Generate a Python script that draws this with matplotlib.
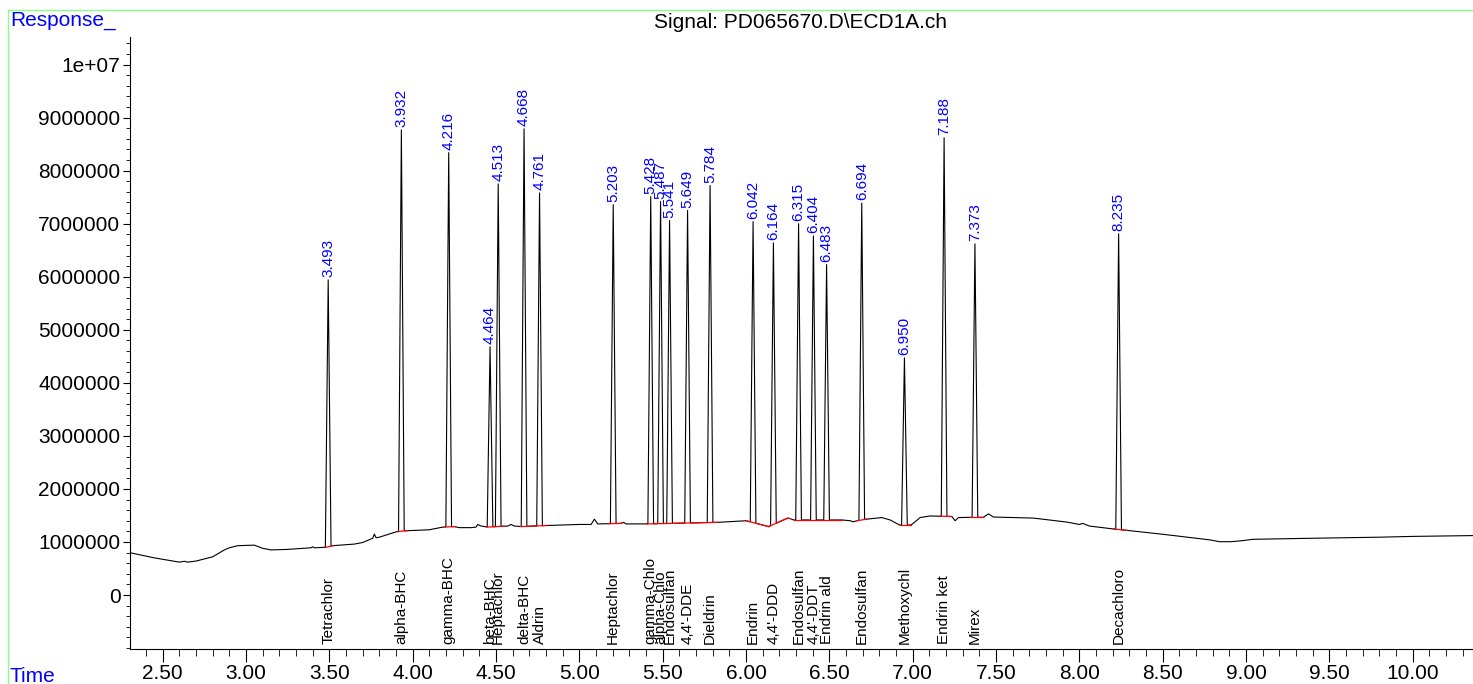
import matplotlib
matplotlib.use("Agg")
import matplotlib.pyplot as plt
from matplotlib.lines import Line2D
import numpy as np

plt.rcParams['font.family'] = ['Liberation Sans', 'DejaVu Sans']

# Peak table: retention time, apex response, compound name
peak_rt = [3.493, 3.932, 4.216, 4.464, 4.513, 4.668, 4.761, 5.203, 5.428, 5.487,
           5.541, 5.649, 5.784, 6.042, 6.164, 6.315, 6.404, 6.483, 6.694, 6.950,
           7.188, 7.373, 8.235]
peak_height = [5.94e6, 8.77e6, 8.34e6, 4.68e6, 7.75e6, 8.79e6, 7.58e6, 7.36e6, 7.51e6, 7.42e6,
               7.06e6, 7.25e6, 7.72e6, 7.04e6, 6.64e6, 7.00e6, 6.77e6, 6.23e6, 7.39e6, 4.47e6,
               8.62e6, 6.62e6, 6.81e6]
peak_name = ["Tetrachlor", "alpha-BHC", "gamma-BHC", "beta-BHC", "Heptachlor", "delta-BHC",
             "Aldrin", "Heptachlor", "gamma-Chlo", "alpha-Chlo", "Endosulfan", "4,4'-DDE",
             "Dieldrin", "Endrin", "4,4'-DDD", "Endosulfan", "4,4'-DDT", "Endrin ald",
             "Endosulfan", "Methoxychl", "Endrin ket", "Mirex", "Decachloro"]

# Baseline of the signal (time, response)
base_t = [2.30, 2.45, 2.60, 2.63, 2.65, 2.70, 2.80, 2.87, 2.90, 2.95, 3.05, 3.10, 3.15, 3.25,
          3.39, 3.40, 3.41, 3.48, 3.52, 3.65, 3.70, 3.76, 3.77, 3.78, 3.80, 3.90, 3.95, 4.10,
          4.18, 4.25, 4.28, 4.35, 4.38, 4.39, 4.41, 4.45, 4.50, 4.57, 4.59, 4.61, 4.65, 4.80,
          5.00, 5.07, 5.09, 5.11, 5.25, 5.265, 5.28, 5.40, 5.83, 6.00, 6.135, 6.25, 6.265,
          6.285, 6.575, 6.625, 6.644, 6.664, 6.724, 6.814, 6.864, 6.92, 6.99, 7.014, 7.044,
          7.104, 7.164, 7.234, 7.254, 7.274, 7.334, 7.424, 7.454, 7.484, 7.724, 7.924, 8.00,
          8.02, 8.06, 8.20, 8.28, 8.50, 8.78, 8.84, 8.91, 8.98, 9.04, 9.40, 9.80, 10.00, 10.36]
base_v = [0.80, 0.70, 0.62, 0.635, 0.62, 0.64, 0.72, 0.85, 0.89, 0.93, 0.94, 0.88, 0.85, 0.86,
          0.89, 0.91, 0.89, 0.90, 0.93, 0.96, 0.99, 1.07, 1.15, 1.08, 1.09, 1.19, 1.21, 1.23,
          1.28, 1.29, 1.27, 1.27, 1.28, 1.33, 1.30, 1.28, 1.29, 1.30, 1.33, 1.30, 1.29, 1.31,
          1.33, 1.33, 1.43, 1.34, 1.35, 1.37, 1.34, 1.34, 1.37, 1.40, 1.29, 1.45, 1.44,
          1.415, 1.415, 1.40, 1.38, 1.40, 1.43, 1.46, 1.415, 1.32, 1.32, 1.38, 1.46,
          1.49, 1.485, 1.48, 1.40, 1.46, 1.465, 1.465, 1.53, 1.47, 1.45, 1.375, 1.33,
          1.35, 1.30, 1.245, 1.22, 1.145, 1.04, 1.005, 1.005, 1.025, 1.05, 1.07, 1.09, 1.105, 1.12]
base_v = [v * 1e6 for v in base_v]

# Integration baselines (red), start / end time
int_start = [3.479, 3.915, 4.195, 4.445, 4.645, 5.175, 5.405, 6.000, 6.135, 6.285, 6.664,
             6.924, 7.164, 7.344, 8.204]
int_end = [3.524, 3.969, 4.255, 4.545, 4.805, 5.255, 5.825, 6.135, 6.265, 6.575, 6.724,
           6.990, 7.230, 7.424, 8.284]

yticks = [0, 1e6, 2e6, 3e6, 4e6, 5e6, 6e6, 7e6, 8e6, 9e6, 1e7]
ytick_labels = ["0", "1000000", "2000000", "3000000", "4000000", "5000000",
                "6000000", "7000000", "8000000", "9000000", "1e+07"]
xticks = [2.5, 3.0, 3.5, 4.0, 4.5, 5.0, 5.5, 6.0, 6.5, 7.0, 7.5, 8.0, 8.5, 9.0, 9.5, 10.0]

BLUE = '#0000ff'
HALF_W = 0.017


def build_trace():
    bt = np.array(base_t)
    bv = np.array(base_v)
    keep = np.ones(len(bt), dtype=bool)
    for rt in peak_rt:
        keep &= np.abs(bt - rt) > HALF_W
    t = list(bt[keep])
    v = list(bv[keep])
    for rt, h in zip(peak_rt, peak_height):
        for dt in (-HALF_W, HALF_W):
            t.append(rt + dt)
            v.append(np.interp(rt + dt, base_t, base_v))
        t.append(rt)
        v.append(h)
    order = np.argsort(t)
    return np.array(t)[order], np.array(v)[order]


fig = plt.figure(figsize=(14.73, 6.84), dpi=100)
W, H = 1473, 684
ax = fig.add_axes([129.5 / W, 1 - 649 / H, 1 - 129.5 / W, (649 - 37) / H])

t, v = build_trace()
ax.plot(t, v, color='black', lw=0.8, zorder=3)

for s, e in zip(int_start, int_end):
    seg_t = [s] + [bt for bt in base_t if s < bt < e] + [e]
    seg_v = [np.interp(x, base_t, base_v) for x in seg_t]
    ax.plot(seg_t, seg_v, color='red', lw=0.9, zorder=4)

for rt, h, name in zip(peak_rt, peak_height, peak_name):
    ax.annotate(f"{rt:.3f}", (rt, h), xytext=(0, 2), textcoords='offset points',
                rotation=90, ha='center', va='bottom', color=BLUE, fontsize=11)
    ax.text(rt, -0.93e6, name, rotation=90, ha='center', va='bottom',
            color='black', fontsize=11)

ax.set_xlim(2.301, 10.361)
ax.set_ylim(-1.018e6, 10.52e6)
ax.spines['top'].set_visible(False)
ax.spines['right'].set_visible(False)
ax.spines['left'].set_linewidth(0.8)
ax.spines['bottom'].set_linewidth(0.8)

ax.set_yticks(yticks)
ax.set_yticklabels(ytick_labels)
ax.set_yticks(np.arange(-1.0e6, 10.6e6, 2e5), minor=True)
ax.set_xticks(xticks)
ax.set_xticklabels([f"{x:.2f}" for x in xticks])
ax.set_xticks(np.arange(2.4, 10.4, 0.1), minor=True)
ax.tick_params(axis='both', which='major', labelsize=15, direction='out', width=0.8)
ax.tick_params(axis='y', which='major', length=5, pad=1.5)
ax.tick_params(axis='y', which='minor', length=3, width=0.6)
ax.tick_params(axis='x', which='major', length=9, pad=2)
ax.tick_params(axis='x', which='minor', length=5, width=0.6)

fig.text(10 / W, 1 - 20 / H, "Response_", color=BLUE, fontsize=15, ha='left', va='center')
fig.text(10 / W, 1 - 677 / H, "Time", color=BLUE, fontsize=15, ha='left', va='center')
fig.text(800 / W, 1 - 23 / H, "Signal: PD065670.D\\ECD1A.ch", color='black', fontsize=15,
         ha='center', va='center')

green = '#88ff88'
fig.add_artist(Line2D([8 / W, 1], [1 - 9.5 / H, 1 - 9.5 / H], color=green, lw=1.0))
fig.add_artist(Line2D([8 / W, 8 / W], [0, 1 - 9.5 / H], color=green, lw=1.0))

fig.savefig("out.png", dpi=100)
